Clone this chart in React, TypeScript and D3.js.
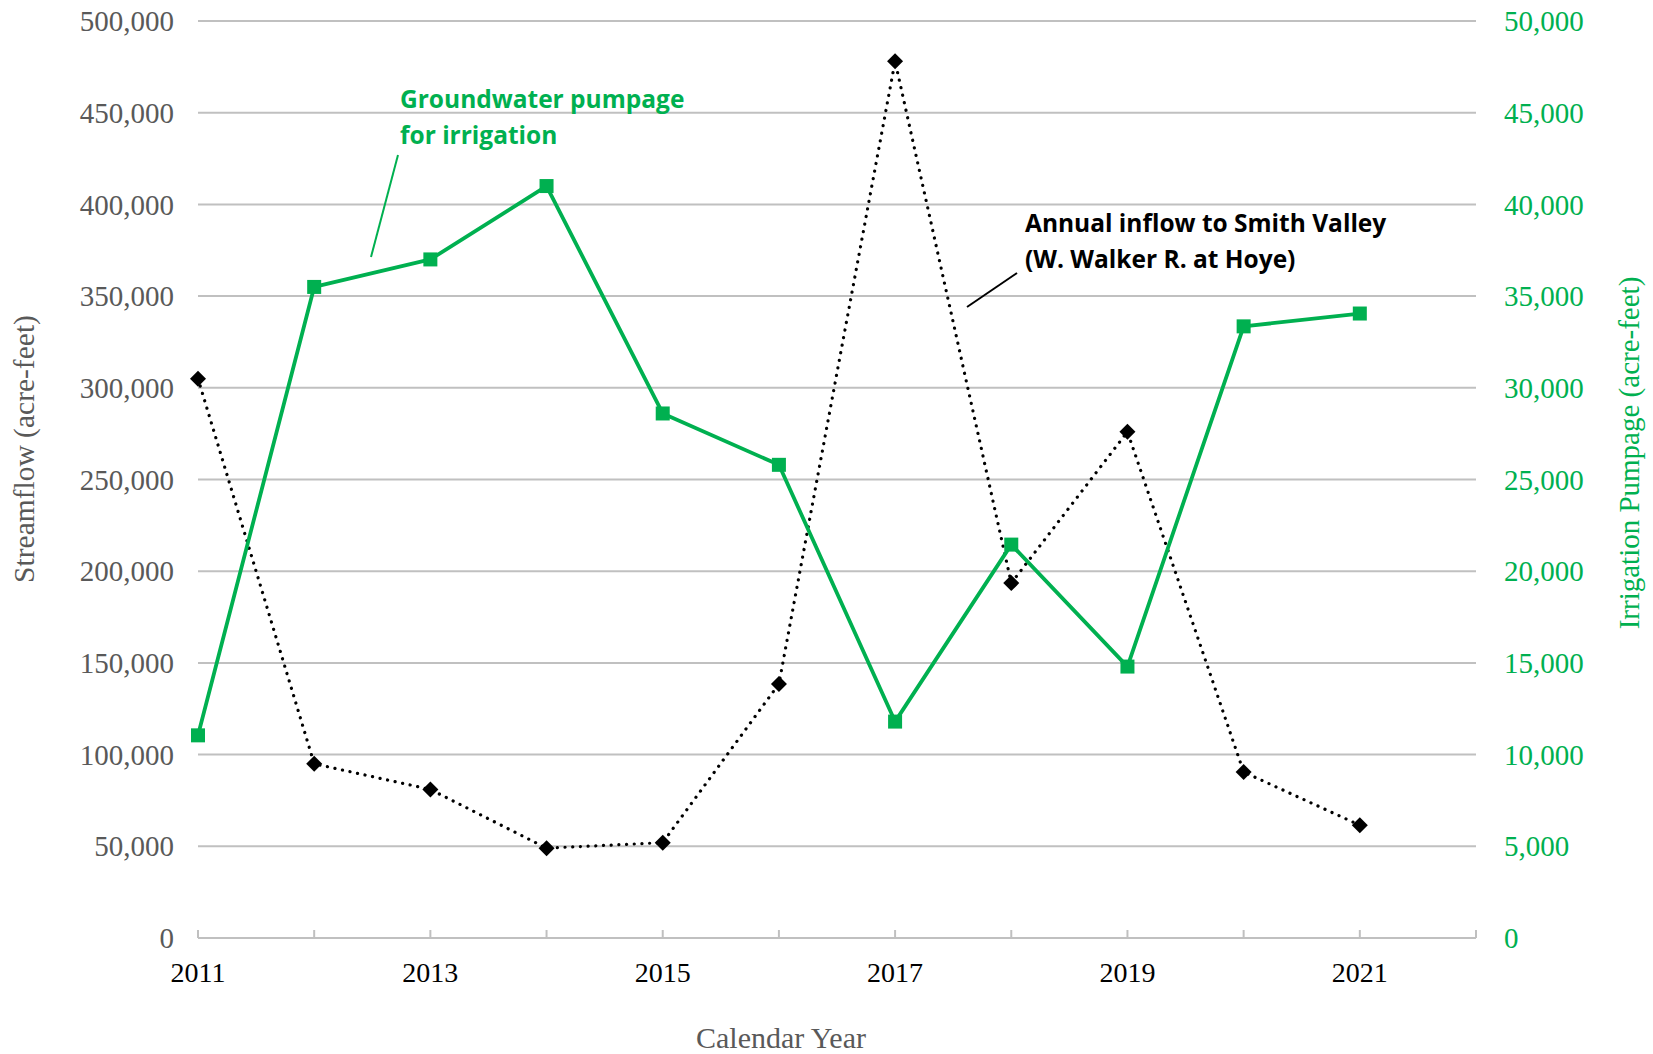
import React, { useRef, useEffect } from 'react';
import * as d3 from 'd3';

// Calendar years (x categories)
const years = [2011, 2012, 2013, 2014, 2015, 2016, 2017, 2018, 2019, 2020, 2021];

// Annual inflow to Smith Valley (W. Walker R. at Hoye), acre-feet
const streamflow = [305000, 95000, 81000, 49000, 52000, 138500, 478000, 193500, 276000, 90500, 61500];

// Groundwater pumpage for irrigation, acre-feet
const pumpage = [11050, 35500, 37000, 41000, 28600, 25800, 11800, 21450, 14800, 33350, 34050];

const leftTicks = [0, 50000, 100000, 150000, 200000, 250000, 300000, 350000, 400000, 450000, 500000];
const rightTicks = [0, 5000, 10000, 15000, 20000, 25000, 30000, 35000, 40000, 45000, 50000];
const yearLabels = [2011, 2013, 2015, 2017, 2019, 2021];

const GREEN = '#00B050';
const GRAY_TEXT = '#595959';

const App: React.FC = () => {
  const svgRef = useRef<SVGSVGElement>(null);
  const width = 1653;
  const height = 1054;

  useEffect(() => {
    if (!svgRef.current) return;
    const svg = d3.select(svgRef.current);
    svg.selectAll('*').remove();

    const margin = { top: 21, right: 177, bottom: 116, left: 198 };
    const innerWidth = width - margin.left - margin.right;
    const innerHeight = height - margin.top - margin.bottom;

    const x = d3.scaleLinear().domain([2011, 2022]).range([0, innerWidth]);
    const yLeft = d3.scaleLinear().domain([0, 500000]).range([innerHeight, 0]);
    const yRight = d3.scaleLinear().domain([0, 50000]).range([innerHeight, 0]);

    const serif = '"Liberation Serif", "Times New Roman", serif';
    const g = svg.append('g').attr('transform', `translate(${margin.left},${margin.top})`);

    // Gridlines
    g.append('g')
      .selectAll('line')
      .data(leftTicks.filter(d => d > 0))
      .join('line')
      .attr('x1', 0)
      .attr('x2', innerWidth)
      .attr('y1', d => yLeft(d))
      .attr('y2', d => yLeft(d))
      .attr('stroke', '#C0C0C0')
      .attr('stroke-width', 2);

    // Bottom axis line with inside ticks
    g.append('line')
      .attr('x1', 0)
      .attr('x2', innerWidth)
      .attr('y1', innerHeight)
      .attr('y2', innerHeight)
      .attr('stroke', '#C0C0C0')
      .attr('stroke-width', 2);

    const tickYears = d3.range(2011, 2023);
    g.append('g')
      .selectAll('line')
      .data(tickYears)
      .join('line')
      .attr('x1', d => x(d))
      .attr('x2', d => x(d))
      .attr('y1', innerHeight)
      .attr('y2', innerHeight - 8)
      .attr('stroke', '#C0C0C0')
      .attr('stroke-width', 2);

    // Year labels
    g.append('g')
      .selectAll('text')
      .data(yearLabels)
      .join('text')
      .attr('x', d => x(d))
      .attr('y', innerHeight + 44)
      .attr('text-anchor', 'middle')
      .attr('font-family', serif)
      .attr('font-size', 28)
      .attr('fill', '#000')
      .text(d => String(d));

    const fmt = d3.format(',');

    // Left tick labels
    g.append('g')
      .selectAll('text')
      .data(leftTicks)
      .join('text')
      .attr('x', -24)
      .attr('y', d => yLeft(d))
      .attr('dy', '0.35em')
      .attr('text-anchor', 'end')
      .attr('font-family', serif)
      .attr('font-size', 29)
      .attr('fill', GRAY_TEXT)
      .text(d => fmt(d));

    // Right tick labels
    g.append('g')
      .selectAll('text')
      .data(rightTicks)
      .join('text')
      .attr('x', innerWidth + 28)
      .attr('y', d => yRight(d))
      .attr('dy', '0.35em')
      .attr('text-anchor', 'start')
      .attr('font-family', serif)
      .attr('font-size', 29)
      .attr('fill', GREEN)
      .text(d => fmt(d));

    // Axis titles
    svg.append('text')
      .attr('transform', `translate(34,449) rotate(-90)`)
      .attr('text-anchor', 'middle')
      .attr('font-family', serif)
      .attr('font-size', 29.5)
      .attr('fill', GRAY_TEXT)
      .text('Streamflow (acre-feet)');

    svg.append('text')
      .attr('transform', `translate(1639,453) rotate(-90)`)
      .attr('text-anchor', 'middle')
      .attr('font-family', serif)
      .attr('font-size', 29)
      .attr('fill', GREEN)
      .text('Irrigation Pumpage (acre-feet)');

    svg.append('text')
      .attr('x', 781)
      .attr('y', 1048)
      .attr('text-anchor', 'middle')
      .attr('font-family', serif)
      .attr('font-size', 30)
      .attr('fill', GRAY_TEXT)
      .text('Calendar Year');

    // Streamflow dotted line
    const flowLine = d3.line<number>()
      .x((_, i) => x(years[i]))
      .y(d => yLeft(d));

    g.append('path')
      .datum(streamflow)
      .attr('fill', 'none')
      .attr('stroke', '#000')
      .attr('stroke-width', 3.2)
      .attr('stroke-linecap', 'round')
      .attr('stroke-dasharray', '0.1 7.6')
      .attr('d', flowLine);

    g.append('g')
      .selectAll('path')
      .data(streamflow)
      .join('path')
      .attr('transform', (d, i) => `translate(${x(years[i])},${yLeft(d)})`)
      .attr('d', 'M0,-8L8,0L0,8L-8,0Z')
      .attr('fill', '#000');

    // Pumpage line
    const pumpLine = d3.line<number>()
      .x((_, i) => x(years[i]))
      .y(d => yRight(d));

    g.append('path')
      .datum(pumpage)
      .attr('fill', 'none')
      .attr('stroke', GREEN)
      .attr('stroke-width', 3.8)
      .attr('stroke-linejoin', 'round')
      .attr('d', pumpLine);

    g.append('g')
      .selectAll('rect')
      .data(pumpage)
      .join('rect')
      .attr('x', (d, i) => x(years[i]) - 7)
      .attr('y', d => yRight(d) - 7)
      .attr('width', 14)
      .attr('height', 14)
      .attr('fill', GREEN);

    // Annotations
    const labelFont = '"Open Sans", Lato, sans-serif';

    const green = svg.append('text')
      .attr('font-family', labelFont)
      .attr('font-weight', 'bold')
      .attr('font-size', 24.5)
      .attr('fill', GREEN);
    green.append('tspan').attr('x', 400).attr('y', 108).text('Groundwater pumpage');
    green.append('tspan').attr('x', 400).attr('y', 144).text('for irrigation');

    svg.append('line')
      .attr('x1', 398).attr('y1', 155)
      .attr('x2', 371).attr('y2', 257)
      .attr('stroke', GREEN)
      .attr('stroke-width', 2);

    const black = svg.append('text')
      .attr('font-family', labelFont)
      .attr('font-weight', 'bold')
      .attr('font-size', 24.5)
      .attr('fill', '#000');
    black.append('tspan').attr('x', 1025).attr('y', 232).text('Annual inflow to Smith Valley');
    black.append('tspan').attr('x', 1025).attr('y', 268).text('(W. Walker R. at Hoye)');

    svg.append('line')
      .attr('x1', 1017).attr('y1', 273)
      .attr('x2', 967).attr('y2', 307)
      .attr('stroke', '#000')
      .attr('stroke-width', 2);
  }, []);

  return (
    <svg
      ref={svgRef}
      width={width}
      height={height}
      style={{ position: 'absolute', left: 0, top: 0, background: '#fff' }}
    />
  );
};

export default App;
